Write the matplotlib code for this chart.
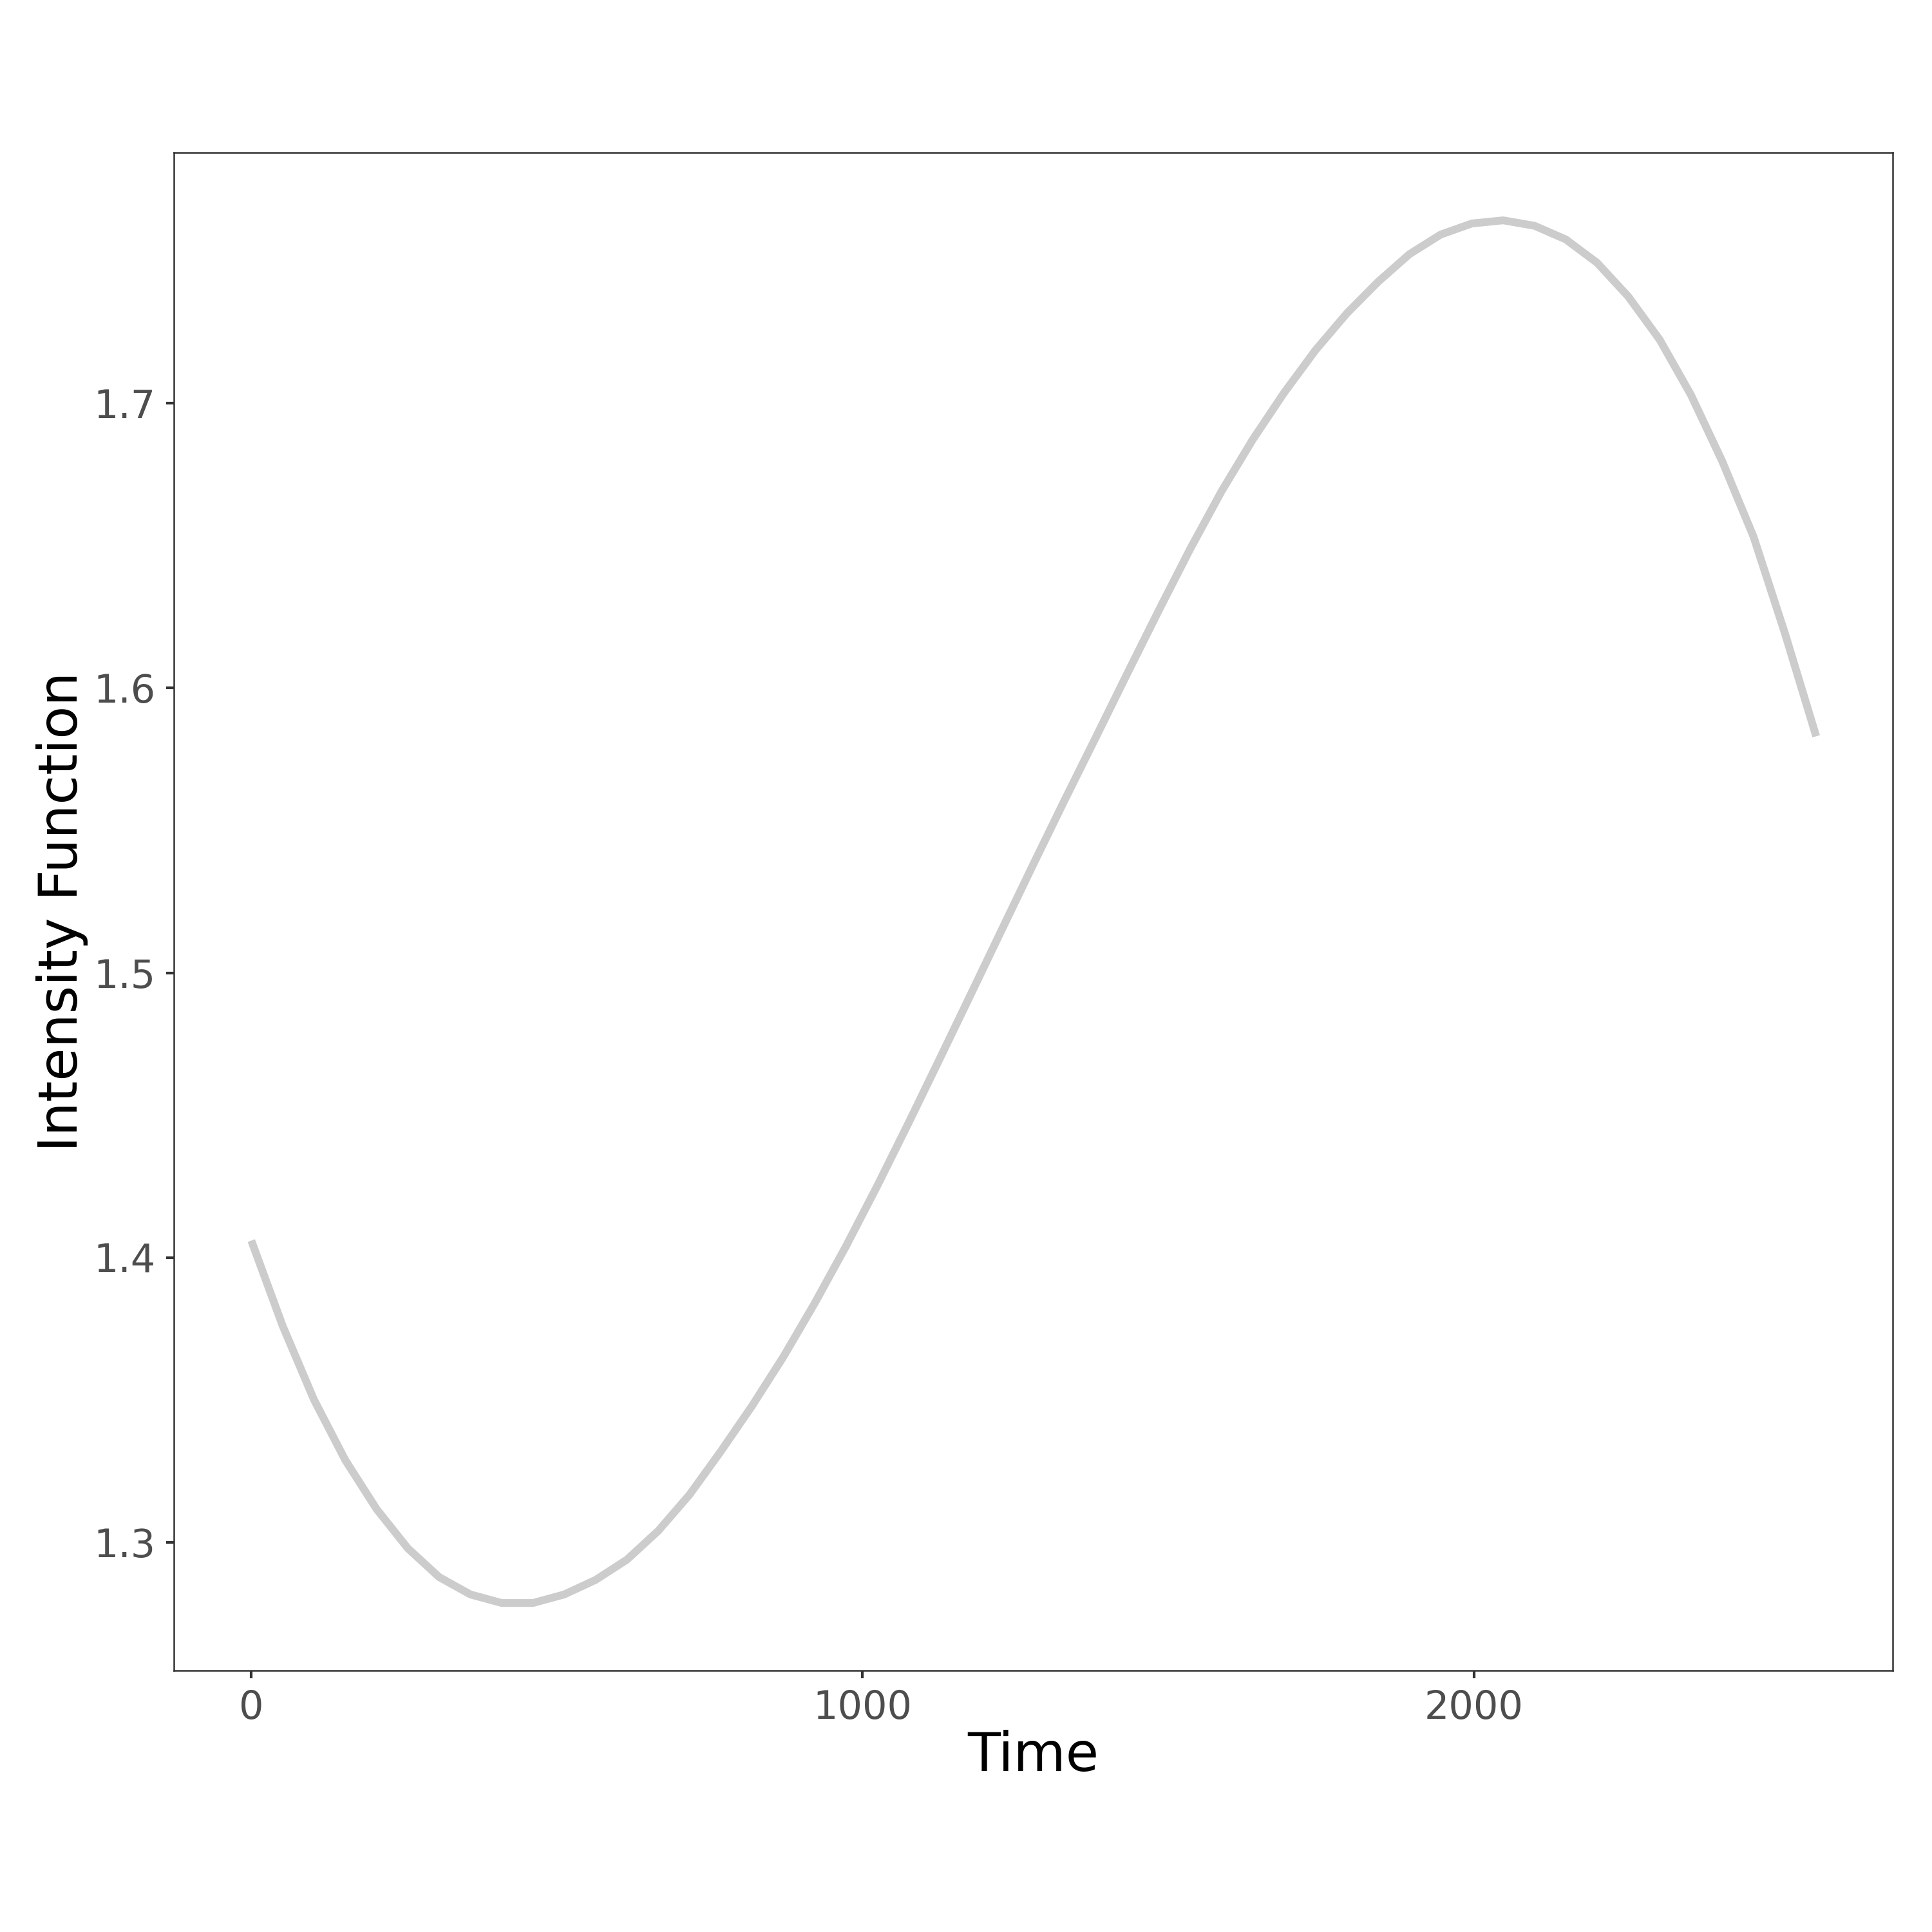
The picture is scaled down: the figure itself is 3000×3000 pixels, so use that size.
import matplotlib
matplotlib.use("Agg")
import matplotlib.pyplot as plt

# Gegevens
time = [0, 51.2, 102.4, 153.6, 204.8, 256, 307.2, 358.4, 409.6, 460.8,
        512, 563.2, 614.4, 665.6, 716.8, 768, 819.2, 870.4, 921.6, 972.8,
        1024, 1075.2, 1126.4, 1177.6, 1228.8, 1280, 1331.2, 1382.4, 1433.6, 1484.8,
        1536, 1587.2, 1638.4, 1689.6, 1740.8, 1792, 1843.2, 1894.4, 1945.6, 1996.8,
        2048, 2099.2, 2150.4, 2201.6, 2252.8, 2304, 2355.2, 2406.4, 2457.6, 2508.8,
        2560]
intensity = [1.406, 1.3761, 1.3502, 1.329, 1.3118, 1.298, 1.2879, 1.2818, 1.2788, 1.2788,
             1.2818, 1.2869, 1.294, 1.3041, 1.3168, 1.332, 1.3480, 1.3652, 1.3840, 1.4040,
             1.4252, 1.4473, 1.4699, 1.4927, 1.5156, 1.5384, 1.5609, 1.5830, 1.6053, 1.6273,
             1.6488, 1.6690, 1.6872, 1.7036, 1.7185, 1.7314, 1.7425, 1.7522, 1.7591, 1.763,
             1.7641, 1.7622, 1.7574, 1.7492, 1.7373, 1.7222, 1.7028, 1.6795, 1.653, 1.6192,
             1.583]
x_ticks = [0, 1000, 2000]
y_ticks = [1.3, 1.4, 1.5, 1.6, 1.7]

fig = plt.figure(figsize=(10, 10), dpi=300)
ax = fig.add_axes([0.0899, 0.1352, 0.9796 - 0.0899, 0.9209 - 0.1352])

ax.plot(time, intensity, color='#CCCCCC', lw=2.9, solid_capstyle='butt')

ax.set_xlim(-127, 2685)
ax.set_ylim(1.255, 1.7878)
ax.set_xticks(x_ticks)
ax.set_yticks(y_ticks)
ax.set_xticklabels([str(t) for t in x_ticks])
ax.set_yticklabels([f'{t:.1f}' for t in y_ticks])

for s in ax.spines.values():
    s.set_color('#333333')
    s.set_linewidth(0.6)
ax.tick_params(axis='both', colors='#333333', labelcolor='#4D4D4D',
               labelsize=14.5, length=2.8, width=1.0, pad=4)

ax.set_xlabel('Time', fontsize=20, color='black', labelpad=1)
ax.set_ylabel('Intensity Function', fontsize=20, color='black', labelpad=2)

fig.savefig('out.png', dpi=300, facecolor='white')
